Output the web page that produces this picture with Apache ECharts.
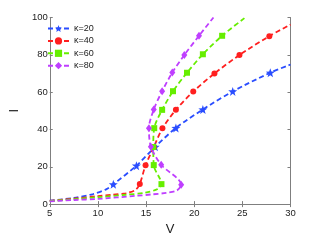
<!DOCTYPE html>
<html><head><meta charset="utf-8">
<script src="https://cdn.jsdelivr.net/npm/echarts@6/dist/echarts.min.js"></script>
<style>html,body{margin:0;padding:0;background:#fff}#c{width:320px;height:241px}</style>
</head><body><div id="c"></div>
<script>
const seriesNames = ['κ=20','κ=40','κ=60','κ=80'];
const xTicks = [5,10,15,20,25,30];
const yTicks = [0,20,40,60,80,100];
// [V, I] points
const k20 = [[5,1.9],[7.5,3.3],[9.5,5.4],[10.9,8.0],[11.6,10.6],[14.0,20.6],[15.95,30.7],[18.1,40.8],[20.9,50.7],[24.0,60.4],[27.9,70.4],[30,74.8]];
const k20Marks = [0,0,0,0,1,1,1,1,1,1,1,0];
const k40 = [[5,1.7],[7.5,2.9],[10,4.3],[11.5,5.0],[12.9,5.8],[13.9,7.6],[14.35,10.8],[14.95,20.8],[15.8,30.5],[16.7,40.6],[18.1,50.5],[19.9,60.3],[22.1,70],[24.7,79.9],[27.8,90],[30,96.2]];
const k40Marks = [0,0,0,0,0,0,1,1,1,1,1,1,1,1,1,0];
const k60 = [[5,1.6],[7.5,2.6],[10,3.7],[12.9,5.0],[14.9,6.1],[16.2,8.1],[16.6,10.7],[15.8,20.9],[15.75,30.6],[15.85,40.7],[16.67,50.5],[17.8,60.5],[19.25,70.4],[20.9,80.3],[22.9,90.2],[25.3,100]];
const k60Marks = [0,0,0,0,0,0,1,1,1,1,1,1,1,1,1,0];
const k80 = [[5,1.5],[7.5,2.2],[10,2.8],[13.9,4.4],[15.6,5.2],[17.1,6.0],[18.2,7.3],[18.65,10.4],[16.57,21.1],[15.5,30.8],[15.3,40.7],[15.8,50.7],[16.67,60.5],[17.73,70.5],[18.97,79.9],[20.5,90.2],[22.0,100]];
const k80Marks = [0,0,0,0,0,0,0,1,1,1,1,1,1,1,1,1,0];

const starPath = 'path://M0,-10L2.35,-3.24L9.51,-3.09L3.8,1.24L5.88,8.09L0,4L-5.88,8.09L-3.8,1.24L-9.51,-3.09L-2.35,-3.24Z';
const styles = [
  {color:'#2a4dff', symbol:starPath, size:9},
  {color:'#ff1f1f', symbol:'circle', size:6},
  {color:'#66ee00', symbol:'rect', size:6},
  {color:'#bf3fff', symbol:'diamond', size:[6,8]}
];
const curves = [k20,k40,k60,k80];
const marks = [k20Marks,k40Marks,k60Marks,k80Marks];

const font = 'Liberation Sans, Arial, sans-serif';
const axisCommon = {
  type:'value', interval:xTicks[1]-xTicks[0],
  axisLine:{show:true, lineStyle:{color:'#7f7f7f', width:1}},
  axisTick:{show:true, inside:true, length:3, lineStyle:{color:'#7f7f7f'}},
  splitLine:{show:false}
};
const series = curves.map((pts,i)=>({
  name: seriesNames[i], type:'line', smooth:0.3,
  xAxisIndex:0, yAxisIndex:0,
  symbol: styles[i].symbol, symbolSize: styles[i].size, showAllSymbol:true,
  color: styles[i].color,
  itemStyle:{color:styles[i].color},
  lineStyle:{color:styles[i].color, width:1.8, type:[5,3]},
  data: pts.map((p,j)=> marks[i][j] ? {value:p} : {value:p, symbol:'none'}),
  animation:false
}));

const chart = echarts.init(document.getElementById('c'), null, {renderer:'canvas'});
chart.setOption({
  animation:false,
  backgroundColor:'#fff',
  grid:{left:41.5, right:29.5, top:17.5, bottom:28.5},
  legend:{
    data:seriesNames, orient:'vertical', left:47, top:24, padding:0,
    itemWidth:21, itemHeight:9, itemGap:3.4,
    textStyle:{fontFamily:font, fontSize:9, color:'#222'}
  },
  xAxis:[
    Object.assign({}, axisCommon, {min:xTicks[0], max:xTicks[xTicks.length-1], position:'bottom',
      name:'V', nameLocation:'middle', nameGap:13,
      nameTextStyle:{fontFamily:font, fontSize:13, color:'#222'},
      axisLabel:{fontFamily:font, fontSize:9.5, color:'#222', margin:4}}),
    Object.assign({}, axisCommon, {min:xTicks[0], max:xTicks[xTicks.length-1], position:'top', axisLabel:{show:false}})
  ],
  yAxis:[
    Object.assign({}, axisCommon, {min:yTicks[0], max:yTicks[yTicks.length-1], interval:yTicks[1]-yTicks[0], position:'left',
      name:'I', nameLocation:'middle', nameGap:24, nameRotate:90,
      nameTextStyle:{fontFamily:font, fontSize:13, color:'#222'},
      axisLabel:{fontFamily:font, fontSize:9.5, color:'#222', margin:2}}),
    Object.assign({}, axisCommon, {min:yTicks[0], max:yTicks[yTicks.length-1], interval:yTicks[1]-yTicks[0], position:'right', axisLabel:{show:false}})
  ],
  series: series
});
</script>
</body></html>
